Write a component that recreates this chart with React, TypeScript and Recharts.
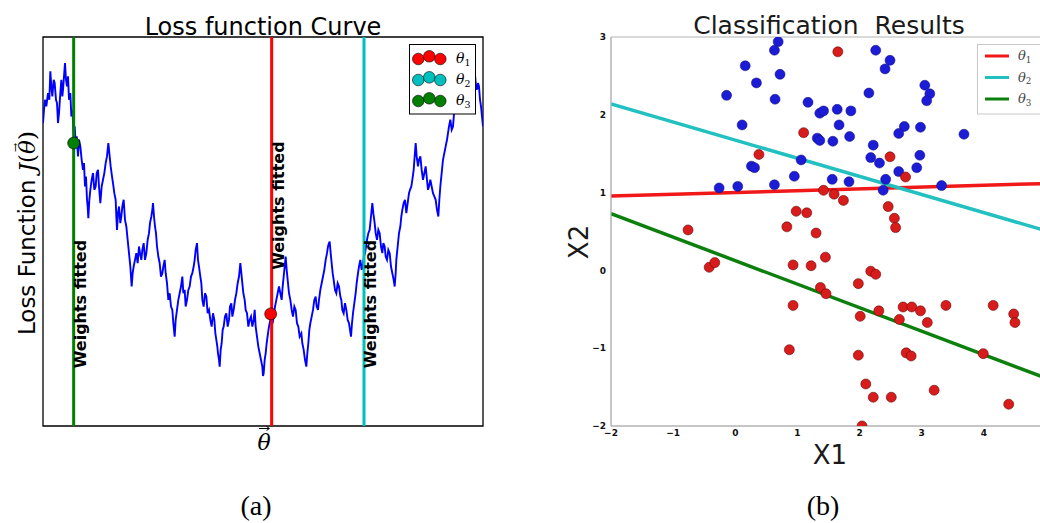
import { ComposedChart, Line, Scatter, XAxis, YAxis, ReferenceLine, ReferenceArea, ReferenceDot } from 'recharts';

// (a) loss curve: [theta, loss] in picture units (loss grows downward)
const lossCurve: [number, number][] = [
  [130, 370], [133, 330], [136, 300], [140, 320], [145, 280], [149, 300], [152, 215], [155, 260],
  [158, 290], [162, 240], [165, 250], [169, 300], [172, 310], [175, 370], [178, 340], [182, 280],
  [185, 240], [188, 290], [190, 270], [193, 230], [196, 190], [199, 240], [202, 260], [205, 230],
  [208, 300], [212, 280], [215, 350], [218, 330], [222, 400], [225, 380], [228, 430], [231, 410],
  [235, 470], [238, 420], [242, 440], [246, 480], [250, 510], [253, 490], [256, 560], [259, 530],
  [262, 600], [264, 620], [266, 655], [269, 600], [272, 570], [276, 540], [280, 520], [284, 570],
  [288, 560], [291, 520], [295, 510], [298, 560], [302, 610], [306, 560], [310, 540], [314, 520],
  [318, 490], [322, 470], [326, 430], [330, 470], [333, 500], [337, 530], [340, 550], [344, 580],
  [348, 600], [350, 650], [352, 690], [355, 640], [358, 620], [362, 670], [365, 650], [368, 620],
  [372, 600], [376, 660], [380, 680], [384, 720], [388, 760], [392, 800], [396, 860], [399, 820],
  [402, 800], [406, 780], [410, 760], [414, 790], [418, 740], [421, 760], [425, 780], [428, 750],
  [432, 730], [436, 780], [440, 760], [444, 720], [448, 700], [451, 670], [455, 650], [458, 630],
  [460, 610], [463, 650], [466, 680], [469, 700], [472, 740], [476, 770], [480, 790], [484, 830],
  [488, 820], [491, 800], [495, 780], [498, 820], [502, 850], [506, 900], [510, 880], [514, 920],
  [518, 930], [521, 970], [525, 1010], [528, 960], [532, 930], [536, 900], [540, 880], [544, 860],
  [548, 830], [551, 880], [555, 870], [558, 920], [562, 900], [566, 870], [570, 860], [574, 830],
  [578, 820], [582, 800], [585, 780], [588, 750], [592, 730], [595, 780], [598, 800], [602, 830],
  [605, 850], [608, 900], [612, 920], [616, 880], [620, 890], [624, 940], [628, 930], [632, 960],
  [636, 980], [640, 940], [644, 960], [647, 1000], [650, 1020], [653, 1040], [655, 1060], [658, 1080],
  [660, 1100], [663, 1050], [666, 1030], [669, 990], [672, 980], [676, 950], [680, 940], [684, 980],
  [688, 960], [691, 920], [695, 910], [698, 950], [702, 930], [706, 900], [710, 880], [714, 850],
  [718, 830], [720, 810], [722, 790], [725, 820], [728, 850], [731, 880], [735, 900], [738, 930],
  [742, 940], [746, 980], [750, 960], [754, 950], [758, 980], [762, 960], [765, 930], [768, 980],
  [772, 1010], [776, 1040], [780, 1060], [784, 1080], [788, 1100], [790, 1128], [792, 1120], [795, 1080],
  [798, 1060], [801, 1030], [805, 1000], [808, 980], [812, 960], [816, 940], [819, 970], [822, 950],
  [826, 920], [830, 900], [834, 880], [838, 860], [842, 880], [846, 900], [849, 860], [852, 830],
  [855, 800], [858, 770], [861, 810], [864, 840], [868, 880], [872, 900], [876, 930], [880, 950],
  [884, 920], [888, 930], [892, 970], [896, 980], [900, 1010], [905, 1000], [908, 1030], [912, 1050],
  [916, 1080], [920, 1100], [923, 1060], [926, 1030], [929, 990], [932, 970], [936, 950], [940, 930],
  [944, 900], [948, 890], [951, 920], [955, 930], [958, 900], [962, 870], [966, 850], [970, 830],
  [974, 810], [978, 780], [982, 760], [985, 740], [988, 730], [990, 725], [993, 760], [996, 790],
  [999, 820], [1002, 840], [1006, 870], [1010, 880], [1014, 850], [1018, 860], [1022, 890], [1025, 900],
  [1028, 930], [1032, 940], [1036, 910], [1040, 930], [1044, 960], [1048, 970], [1051, 990], [1054, 1010],
  [1057, 970], [1060, 940], [1064, 910], [1068, 880], [1071, 850], [1075, 820], [1078, 800], [1082, 780],
  [1086, 810], [1090, 790], [1093, 770], [1096, 760], [1099, 740], [1102, 720], [1106, 700], [1110, 690],
  [1114, 650], [1118, 610], [1121, 640], [1125, 670], [1128, 700], [1132, 720], [1136, 690], [1140, 700],
  [1144, 740], [1148, 760], [1151, 730], [1155, 740], [1158, 770], [1162, 780], [1166, 750], [1170, 760],
  [1174, 800], [1178, 820], [1182, 840], [1185, 860], [1188, 820], [1190, 780], [1194, 740], [1198, 700],
  [1202, 680], [1205, 650], [1208, 630], [1212, 610], [1216, 600], [1220, 640], [1224, 610], [1228, 580],
  [1231, 570], [1235, 560], [1238, 540], [1242, 510], [1245, 470], [1248, 430], [1251, 470], [1255, 500],
  [1258, 480], [1262, 470], [1266, 510], [1270, 540], [1274, 520], [1278, 500], [1282, 540], [1285, 570],
  [1288, 560], [1292, 540], [1296, 560], [1300, 580], [1304, 590], [1308, 600], [1312, 630], [1316, 650],
  [1319, 600], [1322, 560], [1326, 520], [1330, 480], [1334, 460], [1338, 440], [1342, 420], [1345, 400],
  [1348, 380], [1352, 360], [1356, 390], [1360, 380], [1364, 330], [1368, 300], [1372, 290], [1375, 280],
  [1378, 310], [1382, 300], [1386, 280], [1390, 260], [1394, 250], [1398, 270], [1402, 300], [1405, 330],
  [1408, 280], [1410, 250], [1414, 240], [1418, 230], [1422, 220], [1425, 210], [1428, 250], [1432, 270],
  [1435, 250], [1438, 260], [1441, 300], [1444, 320], [1447, 350], [1450, 380],
];

const fittedTheta = [
  { theta: 222, color: '#007f00', labelBottom: 1105 },
  { theta: 816, color: '#ff0000', labelBottom: 810 },
  { theta: 1093, color: '#00bfbf', labelBottom: 1105 },
];

const fitDots = [
  { theta: 222, loss: 430, color: '#007f00' },
  { theta: 813, loss: 942, color: '#ff0000' },
];

// (b) classification points
const blueX = [0.69, 0.63, 0.16, 0.72, 0.34, -0.14, 0.64, 0.11, 1.17, 1.36, 1.42, 1.64, 1.86, 1.67, 1.84, 1.32, 1.36, 1.57, 2.15, 2.26, 2.49, 2.41, 3.05, 3.13, 3.08, 2.72, 2.98, 2.63, 3.68, 2.22, 2.18, 2.32, 2.97, 2.92, 2.63, 2.42, 2.38, 1.06, 0.95, 0.26, 0.31, -0.26, 0.04, 0.63, 1.56, 1.83, 3.32];
const blueY = [2.94, 2.83, 2.63, 2.52, 2.41, 2.25, 2.2, 1.87, 2.16, 2.02, 2.05, 2.07, 2.05, 1.87, 1.72, 1.7, 1.67, 1.66, 2.28, 2.83, 2.7, 2.59, 2.38, 2.27, 2.18, 1.85, 1.84, 1.76, 1.75, 1.61, 1.45, 1.38, 1.48, 1.32, 1.27, 1.17, 1.03, 1.42, 1.21, 1.34, 1.32, 1.06, 1.08, 1.1, 1.17, 1.14, 1.09];
const redX = [1.65, 1.1, 0.38, 2.49, 2.74, 1.42, 1.59, 1.74, 2.46, 2.56, 2.58, 0.98, 1.15, 0.83, 1.3, -0.76, -0.42, -0.33, 0.93, 1.22, 1.45, 1.37, 1.46, 2.18, 2.26, 1.98, 0.93, 2.01, 2.31, 2.64, 2.7, 2.84, 2.98, 3.09, 3.39, 4.15, 4.48, 4.5, 0.87, 1.98, 2.75, 2.83, 3.99, 2.1, 2.22, 2.51, 3.2, 4.4, 2.04];
const redY = [2.81, 1.77, 1.49, 1.46, 1.2, 1.03, 0.98, 0.9, 0.82, 0.67, 0.55, 0.76, 0.74, 0.56, 0.48, 0.52, 0.04, 0.1, 0.07, 0.06, 0.17, -0.22, -0.3, -0.01, -0.05, -0.17, -0.45, -0.59, -0.52, -0.63, -0.47, -0.47, -0.52, -0.67, -0.45, -0.45, -0.56, -0.67, -1.02, -1.09, -1.06, -1.1, -1.07, -1.46, -1.63, -1.63, -1.54, -1.72, -2.0];

const boundaries = [
  { name: '1', color: '#f01818', from: { x: -2, y: 0.955 }, to: { x: 5, y: 1.117 } },
  { name: '2', color: '#22c0c0', from: { x: -2, y: 2.14 }, to: { x: 5, y: 0.51 } },
  { name: '3', color: '#0d7f0d', from: { x: -2, y: 0.73 }, to: { x: 5, y: -1.386 } },
];

const xTicks = [-2, -1, 0, 1, 2, 3, 4];
const yTicks = [-2, -1, 0, 1, 2, 3];
const legendColorsA = ['#ff0000', '#00bfbf', '#007f00'];

const curveData = lossCurve.map(([theta, loss]) => ({ theta, loss }));
const bluePts = blueX.map((x, i) => ({ x, y: blueY[i] }));
const redPts = redX.map((x, i) => ({ x, y: redY[i] }));

const SANS = 'DejaVu Sans';
const SERIF = 'DejaVu Serif';
const fmt = (v: number) => (v < 0 ? `\u2212${Math.abs(v)}` : `${v}`);

const WeightsLabel = (props: any) => (
  <text
    transform={`translate(${props.cx + 12},${props.cy}) rotate(-90)`}
    fontFamily={SANS}
    fontWeight="bold"
    fontSize={16}
    fill="#000"
  >
    Weights fitted
  </text>
);

function Theta({ i, size }: { i: number; size: number }) {
  return (
    <>
      <tspan fontStyle="italic">θ</tspan>
      <tspan fontSize={size * 0.68} dy={size * 0.22}>{i}</tspan>
    </>
  );
}

export default function App() {
  return (
    <div style={{ position: 'absolute', left: 0, top: 0, width: 1040, height: 523, overflow: 'hidden', background: '#fff' }}>
      <div style={{ position: 'absolute', left: 0, top: 0 }}>
        <ComposedChart width={500} height={460} data={curveData} margin={{ top: 37, right: 17, bottom: 34, left: 43 }}>
          <XAxis type="number" dataKey="theta" domain={[130, 1450]} hide allowDataOverflow />
          <YAxis type="number" domain={[112, 1278]} reversed hide allowDataOverflow />
          <Line dataKey="loss" stroke="#0000ff" strokeWidth={1.9} dot={false} isAnimationActive={false} />
          {fittedTheta.map((f) => (
            <ReferenceLine key={f.theta} x={f.theta} stroke={f.color} strokeWidth={3} />
          ))}
          {fittedTheta.map((f) => (
            <ReferenceDot key={'l' + f.theta} x={f.theta} y={f.labelBottom} shape={WeightsLabel} />
          ))}
          <Scatter
            data={fitDots}
            dataKey="loss"
            isAnimationActive={false}
            shape={(p: any) => <circle cx={p.cx} cy={p.cy} r={6} fill={p.payload.color} stroke="#000" strokeWidth={0.6} />}
          />
          <ReferenceArea x1={130} x2={1450} y1={112} y2={1278} fill="none" stroke="#000" strokeWidth={1.3} />
        </ComposedChart>
      </div>

      <div style={{ position: 'absolute', left: 580, top: 0 }}>
        <ComposedChart width={480} height={470} margin={{ top: 37, right: 14, bottom: 24, left: 6 }}>
          <XAxis
            type="number"
            dataKey="x"
            domain={[-2, 5]}
            ticks={xTicks}
            tickFormatter={fmt}
            height={20}
            tickSize={3}
            tickMargin={1}
            tickLine={false}
            axisLine={{ stroke: '#b4b4b4' }}
            tick={{ fontSize: 9, fontWeight: 'bold', fill: '#111', fontFamily: SANS }}
            allowDataOverflow
          />
          <YAxis
            type="number"
            dataKey="y"
            domain={[-2, 3]}
            ticks={yTicks}
            tickFormatter={fmt}
            width={25}
            tickSize={3}
            tickMargin={2}
            tickLine={false}
            axisLine={{ stroke: '#b4b4b4' }}
            tick={{ fontSize: 9, fontWeight: 'bold', fill: '#111', fontFamily: SANS }}
            allowDataOverflow
          />
          <ReferenceArea x1={-2} x2={5} y1={-2} y2={3} fill="none" stroke="#b4b4b4" />
          <Scatter data={bluePts} dataKey="y" fill="#1c1cd6" isAnimationActive={false}
            shape={(p: any) => <circle cx={p.cx} cy={p.cy} r={5} fill="#1c1cd6" stroke="#10107a" strokeWidth={0.5} />} />
          <Scatter data={redPts} dataKey="y" fill="#d81c1c" isAnimationActive={false}
            shape={(p: any) => <circle cx={p.cx} cy={p.cy} r={5} fill="#d81c1c" stroke="#6a0a0a" strokeWidth={0.6} />} />
          {boundaries.map((b) => (
            <ReferenceLine key={b.name} segment={[b.from, b.to]} stroke={b.color} strokeWidth={3.5} ifOverflow="hidden" />
          ))}
        </ComposedChart>
      </div>

      <svg width={1040} height={523} style={{ position: 'absolute', left: 0, top: 0, pointerEvents: 'none' }}>
        {/* panel (a) texts */}
        <text x={263} y={35} textAnchor="middle" fontFamily={SANS} fontSize={24} fill="#000">Loss function Curve</text>
        <text transform="translate(35,233) rotate(-90)" textAnchor="middle" fontFamily={SANS} fontSize={23} fill="#000">
          Loss Function{' '}
          <tspan fontFamily={SERIF} fontStyle="italic">J</tspan>
          <tspan fontFamily={SERIF}>(</tspan>
          <tspan fontFamily={SERIF} fontStyle="italic">θ</tspan>
          <tspan fontFamily={SERIF} fontSize={11} dx={-12} dy={-16}>→</tspan>
          <tspan fontFamily={SERIF} dx={3} dy={16}>)</tspan>
        </text>
        <text x={264} y={450} textAnchor="middle" fontFamily={SERIF} fontStyle="italic" fontSize={22} fill="#000">θ</text>
        <g stroke="#000" strokeWidth={1} fill="none">
          <line x1={259} x2={269} y1={428.5} y2={428.5} />
          <path d="M266.5,426.5 L269.5,428.5 L266.5,430.5" />
        </g>
        <g>
          <rect x={409.5} y={44.5} width={66} height={69.5} fill="#fff" stroke="#000" strokeWidth={1} />
          {legendColorsA.map((c, r) => (
            <g key={c}>
              {[0, 1, 2].map((k) => (
                <circle key={k} cx={418.3 + k * 11} cy={59 + r * 21 - (k === 1 ? 2.7 : 0)} r={5.8} fill={c} stroke="#000" strokeWidth={0.6} />
              ))}
              <text x={456} y={63 + r * 21} fontFamily={SERIF} fontSize={14} fill="#000"><Theta i={r + 1} size={14} /></text>
            </g>
          ))}
        </g>

        {/* panel (b) texts */}
        <text x={829} y={34} textAnchor="middle" fontFamily={SANS} fontSize={25} fill="#1a1a1a" style={{ whiteSpace: 'pre' }}>Classification  Results</text>
        <text transform="translate(588,242) rotate(-90)" textAnchor="middle" fontFamily={SANS} fontSize={26} fill="#1a1a1a">X2</text>
        <text x={830} y={464} textAnchor="middle" fontFamily={SANS} fontSize={26} fill="#1a1a1a">X1</text>
        <g>
          <rect x={977.5} y={44.5} width={80} height={69.5} fill="#fff" stroke="#c8c8c8" strokeWidth={1} />
          {boundaries.map((b, r) => (
            <g key={b.name}>
              <line x1={985} x2={1009} y1={56 + r * 21.5} y2={56 + r * 21.5} stroke={b.color} strokeWidth={3} />
              <text x={1018} y={60 + r * 21.5} fontFamily={SERIF} fontSize={13} fill="#444"><Theta i={r + 1} size={13} /></text>
            </g>
          ))}
        </g>

        {/* captions */}
        <text x={256} y={515} textAnchor="middle" fontFamily="Liberation Serif" fontSize={28} fill="#000">(a)</text>
        <text x={823} y={515} textAnchor="middle" fontFamily="Liberation Serif" fontSize={28} fill="#000">(b)</text>
      </svg>
    </div>
  );
}
